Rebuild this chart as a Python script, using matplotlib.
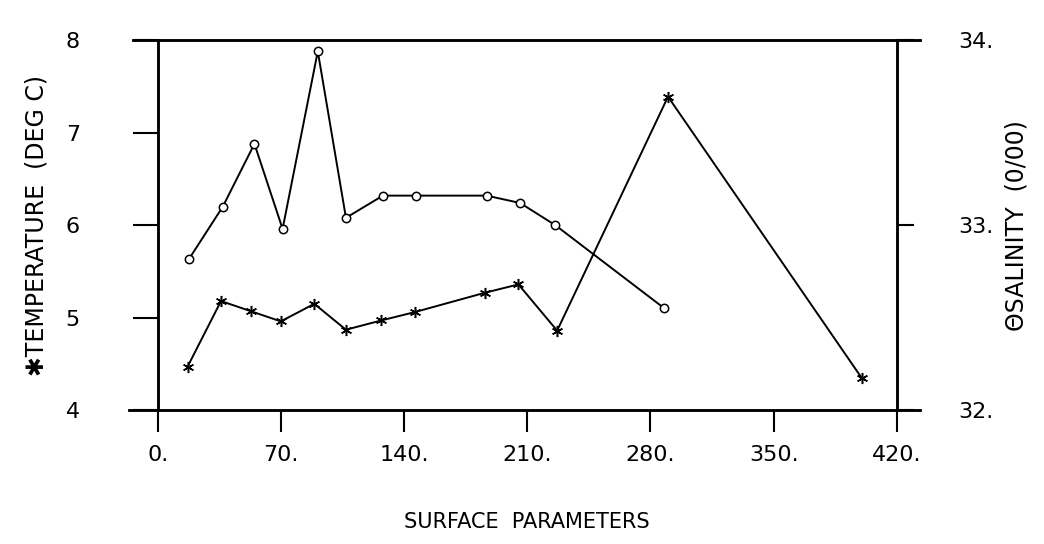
import numpy as np
import matplotlib.pyplot as plt

# station distance vs surface temperature / salinity
temp_x = [17, 36, 53, 70, 89, 107, 127, 146, 186, 205, 227, 290, 400]
temp_y = [4.47, 5.18, 5.07, 4.96, 5.15, 4.87, 4.97, 5.06, 5.27, 5.36, 4.86, 7.39, 4.35]

sal_x = [18, 37, 55, 71, 91, 107, 128, 147, 187, 206, 226, 288]
sal_y = [32.82, 33.10, 33.44, 32.98, 33.94, 33.04, 33.16, 33.16, 33.16, 33.12, 33.00, 32.55]

x_ticks = [0, 70, 140, 210, 280, 350, 420]
x_labels = ['0.', '70.', '140.', '210.', '280.', '350.', '420.']
t_ticks = [4, 5, 6, 7, 8]
s_ticks = [32, 33, 34]
s_labels = ['32.', '33.', '34.']

plt.rcParams['font.family'] = ['DejaVu Sans']

fig = plt.figure(figsize=(10.44, 5.44), dpi=100)
ax = fig.add_axes([0.151, 0.246, 0.708, 0.68])
ax2 = ax.twinx()

asterisk = (6, 2, 0)
ax.plot(temp_x, temp_y, color='k', lw=1.4, marker=asterisk, ms=8, mew=1.1, zorder=3)
ax2.plot(sal_x, sal_y, color='k', lw=1.4, marker='o', ms=6, mfc='white', mec='k', mew=1.1, zorder=3)

ax.set_xlim(0, 420)
ax.set_ylim(4, 8)
ax2.set_ylim(32, 34)

ax.set_xticks(x_ticks)
ax.set_xticklabels(x_labels)
ax.set_yticks(t_ticks)
ax2.set_yticks(s_ticks)
ax2.set_yticklabels(s_labels)

ax.tick_params(axis='x', direction='out', length=16, width=1.5, pad=9, labelsize=16)
ax.tick_params(axis='y', direction='out', length=18, width=1.5, pad=38, labelsize=16)
ax2.tick_params(axis='y', direction='out', length=12, width=1.5, pad=32, labelsize=16)

for a in (ax, ax2):
    for s in a.spines.values():
        s.set_linewidth(1.8)
    a.spines['top'].set_bounds(-14, 433)
    a.spines['bottom'].set_bounds(-16, 433)

ax.set_ylabel('\u2731TEMPERATURE  (DEG C)', fontsize=17, labelpad=12)
ax2.set_ylabel('\u0398SALINITY  (0/00)', fontsize=17, labelpad=8)
ax.set_xlabel('SURFACE  PARAMETERS', fontsize=15, labelpad=34)

fig.savefig('out.png', dpi=100)
